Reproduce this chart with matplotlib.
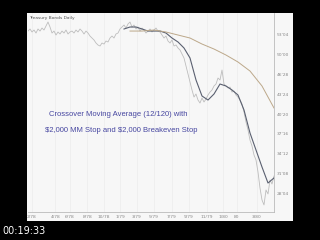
import matplotlib.pyplot as plt
from matplotlib.patches import Rectangle
from matplotlib.ticker import FuncFormatter

# Treasury bonds daily, 1978-1980, prices in points and 32nds
# trading days, one value every 5 days
price_days = list(range(0, 620, 5))
price = [53.59, 53.91, 53.44, 53.75, 53.28, 53.91, 53.59, 54.06, 53.75, 54.38,
         55.00, 54.22, 53.28, 53.59, 52.97, 53.44, 53.13, 53.59, 53.28, 53.75,
         53.13, 53.44, 53.59, 53.28, 53.75, 53.44, 53.91, 53.59, 53.13, 53.59,
         53.28, 52.81, 52.50, 52.19, 51.72, 51.41, 51.25, 51.72, 51.56, 52.03,
         51.88, 52.50, 52.81, 52.50, 53.13, 53.28, 53.91, 54.22, 54.53, 54.06,
         54.69, 55.00, 54.22, 54.53, 53.91, 54.22, 53.59, 54.06, 53.75, 53.28,
         53.59, 53.91, 53.44, 53.75, 54.06, 53.59, 53.44, 52.97, 52.50, 52.81,
         52.03, 51.72, 52.19, 51.25, 51.41, 50.94, 50.63, 50.00, 49.38, 48.13,
         46.88, 45.63, 44.38, 43.28, 43.75, 42.81, 42.34, 43.13, 42.50, 42.97,
         43.59, 44.06, 44.38, 45.00, 45.31, 46.25, 45.94, 47.50, 45.31, 45.00,
         44.69, 44.84, 44.06, 44.22, 43.59, 43.28, 42.81, 42.19, 40.94, 39.38,
         38.13, 36.56, 35.63, 34.22, 33.44, 31.56, 29.06, 27.19, 26.41, 28.75,
         28.13, 30.31, 29.69, 30.94]

# 12-day moving average
ma12_days = list(range(240, 620, 15))
ma12 = [53.91, 54.22, 54.22, 53.91, 53.59, 53.59, 53.59, 53.28, 52.50, 51.88,
        50.94, 49.38, 45.94, 43.44, 42.81, 43.75, 45.31, 45.00, 44.38, 43.59,
        41.25, 37.66, 35.00, 32.34, 29.84, 30.63]

# 120-day moving average
ma120_days = list(range(255, 620, 30))
ma120 = [53.59, 53.59, 53.75, 53.44, 52.97, 52.50, 51.56, 50.78, 49.84, 48.75,
         47.34, 45.00, 41.56]

xtick_days = [10, 68, 105, 148, 190, 230, 272, 315, 360, 402, 448, 488, 522, 572]
xtick_labels = ['2/78', '4/78', '6/78', '8/78', '10/78', '1/79', '3/79', '5/79',
                '7/79', '9/79', '11/79', '1/80', '80', '3/80']
ytick_values = [53.125, 50.0, 46.875, 43.75, 40.625, 37.5, 34.375, 31.25, 28.125]


def thirty_seconds(v, pos):
    whole = int(v)
    return "%d'%02d" % (whole, round((v - whole) * 32))


fig = plt.figure(figsize=(3.2, 2.4), dpi=100, facecolor='black')
# the projected slide
fig.patches.append(Rectangle((27 / 320, 19 / 240), 266 / 320, 208 / 240,
                             transform=fig.transFigure, facecolor='#f7f7f7',
                             edgecolor='none', zorder=-5))

ax = fig.add_axes([28 / 320, 28 / 240, 246 / 320, 199 / 240])
ax.set_facecolor('#f7f7f7')
ax.plot(price_days, price, color='#bdbdbd', lw=0.6)
ax.plot(ma12_days, ma12, color='#5a6070', lw=0.8)
ax.plot(ma120_days, ma120, color='#bca88a', lw=0.7)

ax.set_xlim(0, 615)
ax.set_ylim(25.31, 56.41)
ax.set_xticks(xtick_days)
ax.set_xticklabels(xtick_labels)
ax.set_yticks(ytick_values)
ax.yaxis.set_major_formatter(FuncFormatter(thirty_seconds))
ax.yaxis.tick_right()
ax.tick_params(labelsize=3.2, colors='#888888', length=0, pad=2)
ax.grid(axis='x', color='#ececec', lw=0.5)
for side in ['top', 'left']:
    ax.spines[side].set_visible(False)
for side in ['right', 'bottom']:
    ax.spines[side].set_color('#bbbbbb')
    ax.spines[side].set_linewidth(0.6)

ax.text(0.005, 0.985, 'Treasury Bonds Daily', transform=ax.transAxes,
        fontsize=3.2, color='#555555', va='top')

fig.text(0.37, 0.521, 'Crossover Moving Average (12/120) with',
         fontsize=5.5, color='#4646a0', family='Liberation Sans',
         ha='center', va='center')
fig.text(0.378, 0.458, r'\$2,000 MM Stop and \$2,000 Breakeven Stop',
         fontsize=5.5, color='#4646a0', family='Liberation Sans',
         ha='center', va='center')

fig.text(2 / 320, 1 - 231 / 240, '00:19:33', fontsize=7, color='white',
         va='center')

plt.savefig('out.png', dpi=100, facecolor='black')
